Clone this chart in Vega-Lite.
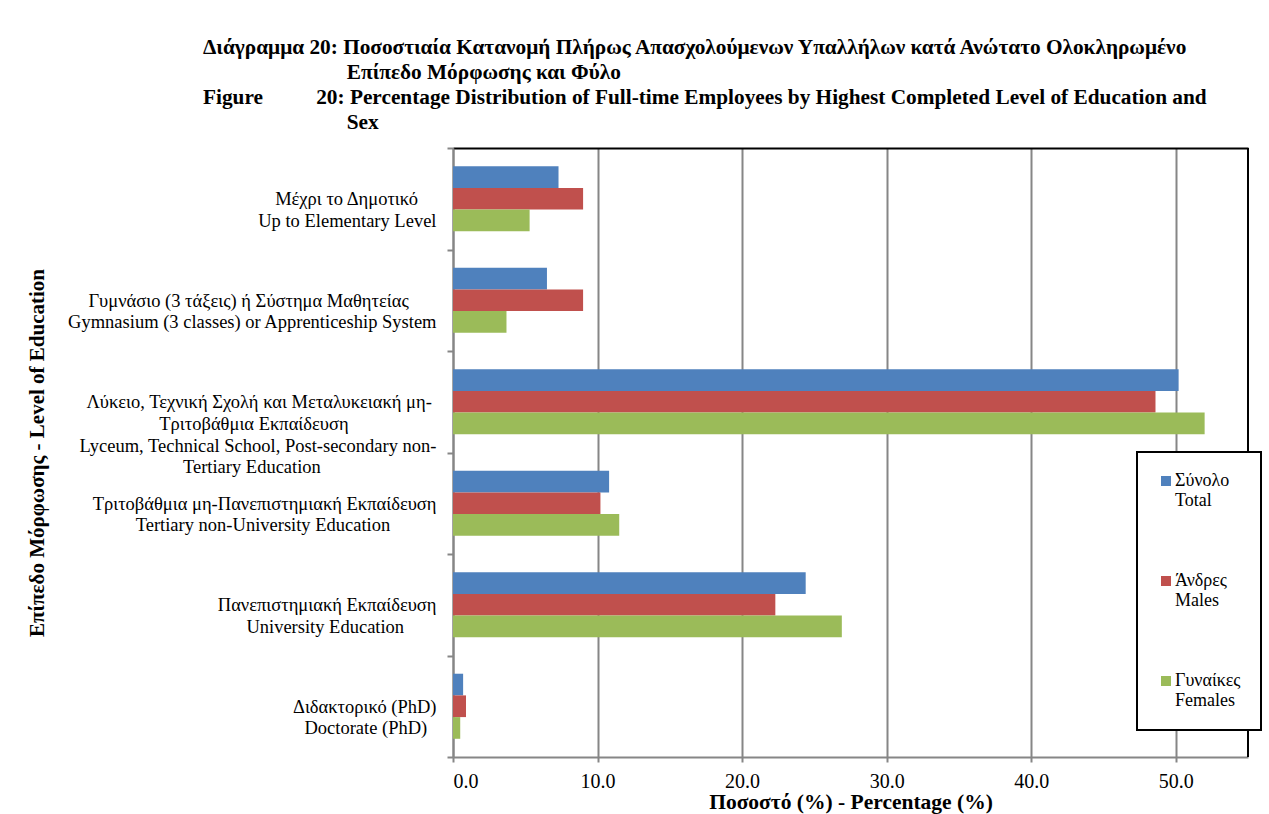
{
  "$schema": "https://vega.github.io/schema/vega-lite/v6.json",
  "width": 795,
  "height": 609,
  "autosize": {"type": "none"},
  "padding": {"left": 453, "top": 148, "right": 21, "bottom": 57},
  "background": "white",
  "title": {
    "text": [
      "Διάγραμμα 20: Ποσοστιαία Κατανομή Πλήρως Απασχολούμενων Υπαλλήλων κατά Ανώτατο Ολοκληρωμένο",
      "\u200b\u00a0\u00a0\u00a0\u00a0\u00a0\u00a0\u00a0\u00a0\u00a0\u00a0\u00a0\u00a0\u00a0\u00a0\u00a0\u00a0\u00a0\u00a0\u00a0\u00a0\u00a0\u00a0\u00a0\u00a0\u00a0\u00a0\u00a0Επίπεδο Μόρφωσης και Φύλο",
      "Figure\u00a0\u00a0\u00a0\u00a0\u00a0\u00a0\u00a0\u00a0\u00a0\u00a020: Percentage Distribution of Full-time Employees by Highest Completed Level of Education and",
      "\u200b\u00a0\u00a0\u00a0\u00a0\u00a0\u00a0\u00a0\u00a0\u00a0\u00a0\u00a0\u00a0\u00a0\u00a0\u00a0\u00a0\u00a0\u00a0\u00a0\u00a0\u00a0\u00a0\u00a0\u00a0\u00a0\u00a0\u00a0Sex"
    ],
    "anchor": "start",
    "frame": "group",
    "dx": -250,
    "offset": 6,
    "font": "Liberation Serif",
    "fontSize": 21.3,
    "fontWeight": "bold",
    "lineHeight": 25,
    "color": "black"
  },
  "data": {
    "values": [
      {"level": "Μέχρι το Δημοτικό\u00a0\u00a0\u00a0\u00a0\u200b\nUp to Elementary Level", "sex": "Σύνολο\nTotal", "pct": 7.3},
      {"level": "Μέχρι το Δημοτικό\u00a0\u00a0\u00a0\u00a0\u200b\nUp to Elementary Level", "sex": "Άνδρες\nMales", "pct": 9.0},
      {"level": "Μέχρι το Δημοτικό\u00a0\u00a0\u00a0\u00a0\u200b\nUp to Elementary Level", "sex": "Γυναίκες\nFemales", "pct": 5.3},
      {"level": "Γυμνάσιο (3 τάξεις) ή Σύστημα Μαθητείας\u00a0\u00a0\u00a0\u00a0\u00a0\u00a0\u200b\nGymnasium (3 classes) or Apprenticeship System", "sex": "Σύνολο\nTotal", "pct": 6.5},
      {"level": "Γυμνάσιο (3 τάξεις) ή Σύστημα Μαθητείας\u00a0\u00a0\u00a0\u00a0\u00a0\u00a0\u200b\nGymnasium (3 classes) or Apprenticeship System", "sex": "Άνδρες\nMales", "pct": 9.0},
      {"level": "Γυμνάσιο (3 τάξεις) ή Σύστημα Μαθητείας\u00a0\u00a0\u00a0\u00a0\u00a0\u00a0\u200b\nGymnasium (3 classes) or Apprenticeship System", "sex": "Γυναίκες\nFemales", "pct": 3.7},
      {"level": "Λύκειο, Τεχνική Σχολή και Μεταλυκειακή μη-\u00a0\u200b\nΤριτοβάθμια Εκπαίδευση\u00a0\u00a0\u00a0\u00a0\u00a0\u00a0\u00a0\u00a0\u00a0\u00a0\u00a0\u00a0\u00a0\u00a0\u00a0\u00a0\u00a0\u00a0\u00a0\u200b\nLyceum, Technical School, Post-secondary non-\nTertiary Education\u00a0\u00a0\u00a0\u00a0\u00a0\u00a0\u00a0\u00a0\u00a0\u00a0\u00a0\u00a0\u00a0\u00a0\u00a0\u00a0\u00a0\u00a0\u00a0\u00a0\u00a0\u00a0\u00a0\u00a0\u00a0\u200b", "sex": "Σύνολο\nTotal", "pct": 50.2},
      {"level": "Λύκειο, Τεχνική Σχολή και Μεταλυκειακή μη-\u00a0\u200b\nΤριτοβάθμια Εκπαίδευση\u00a0\u00a0\u00a0\u00a0\u00a0\u00a0\u00a0\u00a0\u00a0\u00a0\u00a0\u00a0\u00a0\u00a0\u00a0\u00a0\u00a0\u00a0\u00a0\u200b\nLyceum, Technical School, Post-secondary non-\nTertiary Education\u00a0\u00a0\u00a0\u00a0\u00a0\u00a0\u00a0\u00a0\u00a0\u00a0\u00a0\u00a0\u00a0\u00a0\u00a0\u00a0\u00a0\u00a0\u00a0\u00a0\u00a0\u00a0\u00a0\u00a0\u00a0\u200b", "sex": "Άνδρες\nMales", "pct": 48.6},
      {"level": "Λύκειο, Τεχνική Σχολή και Μεταλυκειακή μη-\u00a0\u200b\nΤριτοβάθμια Εκπαίδευση\u00a0\u00a0\u00a0\u00a0\u00a0\u00a0\u00a0\u00a0\u00a0\u00a0\u00a0\u00a0\u00a0\u00a0\u00a0\u00a0\u00a0\u00a0\u00a0\u200b\nLyceum, Technical School, Post-secondary non-\nTertiary Education\u00a0\u00a0\u00a0\u00a0\u00a0\u00a0\u00a0\u00a0\u00a0\u00a0\u00a0\u00a0\u00a0\u00a0\u00a0\u00a0\u00a0\u00a0\u00a0\u00a0\u00a0\u00a0\u00a0\u00a0\u00a0\u200b", "sex": "Γυναίκες\nFemales", "pct": 52.0},
      {"level": "Τριτοβάθμια μη-Πανεπιστημιακή Εκπαίδευση\nTertiary non-University Education\u00a0\u00a0\u00a0\u00a0\u00a0\u00a0\u00a0\u00a0\u00a0\u00a0\u200b", "sex": "Σύνολο\nTotal", "pct": 10.8},
      {"level": "Τριτοβάθμια μη-Πανεπιστημιακή Εκπαίδευση\nTertiary non-University Education\u00a0\u00a0\u00a0\u00a0\u00a0\u00a0\u00a0\u00a0\u00a0\u00a0\u200b", "sex": "Άνδρες\nMales", "pct": 10.2},
      {"level": "Τριτοβάθμια μη-Πανεπιστημιακή Εκπαίδευση\nTertiary non-University Education\u00a0\u00a0\u00a0\u00a0\u00a0\u00a0\u00a0\u00a0\u00a0\u00a0\u200b", "sex": "Γυναίκες\nFemales", "pct": 11.5},
      {"level": "Πανεπιστημιακή Εκπαίδευση\nUniversity Education\u00a0\u00a0\u00a0\u00a0\u00a0\u00a0\u00a0\u200b", "sex": "Σύνολο\nTotal", "pct": 24.4},
      {"level": "Πανεπιστημιακή Εκπαίδευση\nUniversity Education\u00a0\u00a0\u00a0\u00a0\u00a0\u00a0\u00a0\u200b", "sex": "Άνδρες\nMales", "pct": 22.3},
      {"level": "Πανεπιστημιακή Εκπαίδευση\nUniversity Education\u00a0\u00a0\u00a0\u00a0\u00a0\u00a0\u00a0\u200b", "sex": "Γυναίκες\nFemales", "pct": 26.9},
      {"level": "Διδακτορικό (PhD)\nDoctorate (PhD)\u00a0\u00a0\u200b", "sex": "Σύνολο\nTotal", "pct": 0.7},
      {"level": "Διδακτορικό (PhD)\nDoctorate (PhD)\u00a0\u00a0\u200b", "sex": "Άνδρες\nMales", "pct": 0.9},
      {"level": "Διδακτορικό (PhD)\nDoctorate (PhD)\u00a0\u00a0\u200b", "sex": "Γυναίκες\nFemales", "pct": 0.5}
    ]
  },
  "layer": [
    {
      "mark": {"type": "bar"},
      "encoding": {
        "y": {
          "field": "level",
          "type": "nominal",
          "sort": null,
          "scale": {"paddingInner": 0, "paddingOuter": 0},
          "axis": {
            "labelExpr": "split(datum.label, '\\n')",
            "labelAlign": "right",
            "labelBaseline": "middle",
            "labelLineHeight": 21.7,
            "labelFont": "Liberation Serif",
            "labelFontSize": 18.5,
            "labelColor": "black",
            "labelPadding": 11,
            "labelLimit": 600,
            "domainColor": "#868686",
            "domainWidth": 2,
            "tickColor": "#868686",
            "tickWidth": 2,
            "tickSize": 6,
            "tickBand": "extent",
            "grid": false,
            "title": "Επίπεδο Μόρφωσης - Level of Education",
            "titleFont": "Liberation Serif",
            "titleFontSize": 21,
            "titleFontWeight": "bold",
            "titleColor": "black",
            "titleBaseline": "middle",
            "titleX": -416
          }
        },
        "yOffset": {
          "field": "sex",
          "type": "nominal",
          "sort": null,
          "scale": {"paddingInner": 0, "paddingOuter": 0.84}
        },
        "x": {
          "field": "pct",
          "type": "quantitative",
          "scale": {"domain": [0, 55], "nice": false, "zero": true},
          "axis": {
            "values": [0, 10, 20, 30, 40, 50],
            "format": ".1f",
            "grid": true,
            "gridColor": "#868686",
            "gridWidth": 2,
            "domainColor": "#868686",
            "domainWidth": 2,
            "tickColor": "#868686",
            "tickWidth": 2,
            "tickSize": 5,
            "labelFont": "Liberation Serif",
            "labelFontSize": 20,
            "labelColor": "black",
            "labelPadding": 9,
            "title": "Ποσοστό (%) - Percentage (%)",
            "titleFont": "Liberation Serif",
            "titleFontSize": 21.5,
            "titleFontWeight": "bold",
            "titleColor": "black",
            "titlePadding": 0
          }
        },
        "color": {
          "field": "sex",
          "type": "nominal",
          "sort": null,
          "scale": {
            "domain": ["Σύνολο\nTotal", "Άνδρες\nMales", "Γυναίκες\nFemales"],
            "range": ["#4F81BD", "#C0504D", "#9BBB59"]
          },
          "legend": {
            "orient": "none",
            "legendX": 684,
            "legendY": 304,
            "title": null,
            "symbolType": "square",
            "symbolSize": 100,
            "symbolStrokeWidth": 0,
            "labelExpr": "split(datum.label, '\\n')",
            "labelFont": "Liberation Serif",
            "labelFontSize": 18,
            "labelLineHeight": 20,
            "labelColor": "black",
            "labelLimit": 300,
            "labelOffset": 0,
            "labelBaseline": "middle",
            "rowPadding": 62,
            "padding": 20,
            "strokeColor": "black",
            "fillColor": "white"
          }
        }
      }
    },
    {
      "data": {"values": [{}]},
      "mark": {"type": "rule", "color": "black", "strokeWidth": 2},
      "encoding": {
        "x": {
          "datum": 55,
          "type": "quantitative",
          "axis": {
            "orient": "top",
            "domainColor": "black",
            "domainWidth": 2,
            "ticks": false,
            "labels": false,
            "grid": false,
            "title": null
          }
        }
      }
    }
  ],
  "resolve": {"axis": {"x": "independent"}},
  "config": {
    "view": {"stroke": null},
    "font": "Liberation Serif",
    "legend": {"strokeWidth": 2}
  }
}
